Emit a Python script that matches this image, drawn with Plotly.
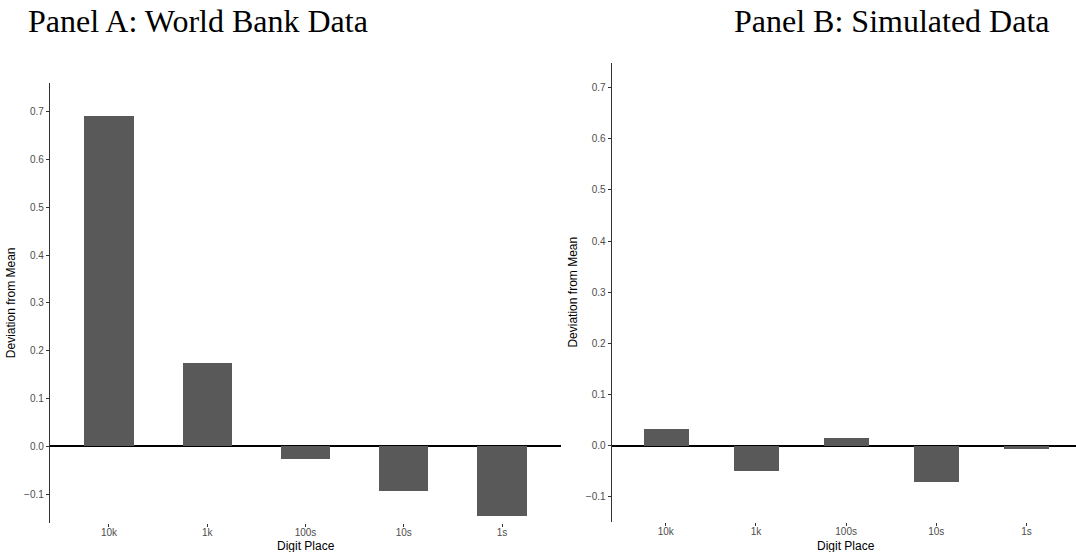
import plotly.graph_objects as go

# Digit places and their deviation from the mean frequency
digit_places = ["10k", "1k", "100s", "10s", "1s"]
world_bank_dev = [0.691, 0.175, -0.027, -0.094, -0.146]
simulated_dev = [0.033, -0.049, 0.015, -0.070, -0.006]
y_ticks = [-0.1, 0.0, 0.1, 0.2, 0.3, 0.4, 0.5, 0.6, 0.7]

W, H = 1076, 552
BAR_COLOR = "#595959"
SANS = "Liberation Sans, Arial, sans-serif"
SERIF = "Liberation Serif, Times New Roman, serif"


def px_x(p):
    return p / W


def px_y(p):
    return 1 - p / H


fig = go.Figure()
fig.add_trace(go.Bar(x=digit_places, y=world_bank_dev, width=0.5,
                     marker=dict(color=BAR_COLOR, line=dict(width=0)),
                     xaxis="x", yaxis="y", showlegend=False))
fig.add_trace(go.Bar(x=digit_places, y=simulated_dev, width=0.5,
                     marker=dict(color=BAR_COLOR, line=dict(width=0)),
                     xaxis="x2", yaxis="y2", showlegend=False))

xaxis_common = dict(
    type="category", showline=False, showgrid=False, zeroline=False,
    ticks="outside", ticklen=3, tickwidth=1, tickcolor="#333333",
    ticklabelstandoff=-3,
    tickfont=dict(family=SANS, size=10, color="#4d4d4d"),
)
yaxis_common = dict(
    showline=True, linecolor="#333333", linewidth=1.3,
    showgrid=False, zeroline=True, zerolinecolor="black", zerolinewidth=1.5,
    ticks="outside", ticklen=3, tickwidth=1, tickcolor="#333333",
    tickvals=y_ticks, tickformat=".1f",
    tickfont=dict(family=SANS, size=10, color="#4d4d4d"),
    title=dict(text="Deviation from Mean", font=dict(family=SANS, size=12, color="black"),
               standoff=5),
)

panel_a = [px_x(50), px_x(561)]
panel_b = [px_x(611.7), 1.0]

title_font = dict(family=SERIF, size=32, color="black")
xlab_font = dict(family=SANS, size=12, color="black")

fig.update_layout(
    width=W, height=H,
    margin=dict(l=0, r=0, t=0, b=0),
    paper_bgcolor="white", plot_bgcolor="white",
    bargap=0,
    xaxis=dict(xaxis_common, domain=panel_a, range=[-0.6, 4.6], anchor="y"),
    yaxis=dict(yaxis_common, domain=[px_y(522.7), px_y(83)], range=[-0.160, 0.760],
               anchor="x"),
    xaxis2=dict(xaxis_common, domain=panel_b, range=[-0.6, 4.55], anchor="y2"),
    yaxis2=dict(yaxis_common, domain=[px_y(521.7), px_y(62.7)], range=[-0.149, 0.749],
                anchor="x2"),
    annotations=[
        dict(text="Panel A: World Bank Data", xref="paper", yref="paper",
             x=px_x(26), y=px_y(21), xanchor="left", yanchor="middle",
             showarrow=False, font=title_font),
        dict(text="Panel B: Simulated Data", xref="paper", yref="paper",
             x=px_x(1052), y=px_y(21), xanchor="right", yanchor="middle",
             showarrow=False, font=title_font),
        # x-axis titles, centred under the categories of each panel
        dict(text="Digit Place", xref="x", yref="paper", x=2, y=px_y(545.5),
             xanchor="center", yanchor="middle", showarrow=False, font=xlab_font),
        dict(text="Digit Place", xref="x2", yref="paper", x=2, y=px_y(545.5),
             xanchor="center", yanchor="middle", showarrow=False, font=xlab_font),
    ],
)

fig.write_html("out.html")
